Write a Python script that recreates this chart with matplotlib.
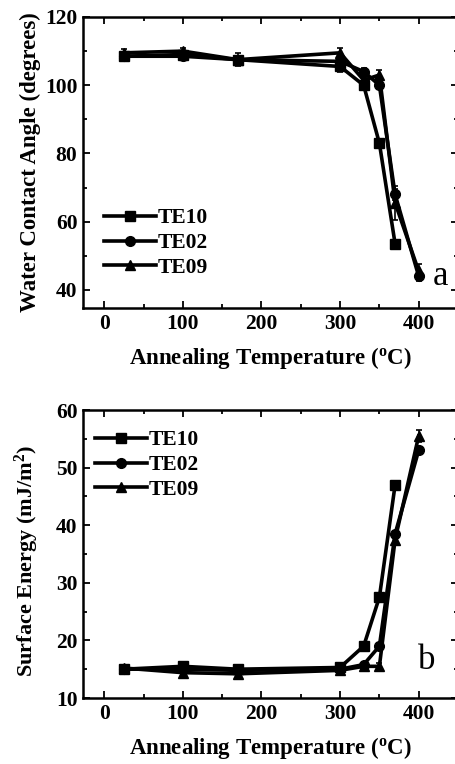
import matplotlib.pyplot as plt
from matplotlib.ticker import MultipleLocator

plt.rcParams['font.family'] = 'Liberation Serif'
plt.rcParams['mathtext.fontset'] = 'custom'
plt.rcParams['mathtext.rm'] = 'Liberation Serif'
plt.rcParams['mathtext.bf'] = 'Liberation Serif:bold'

# annealing temperatures (C)
temps = [25, 100, 170, 300, 330, 350, 370, 400]
temps_te10 = [25, 100, 170, 300, 330, 350, 370]

# panel a: water contact angle (degrees)
wca_te10 = [108.5, 109.0, 107.5, 105.5, 100.0, 83.0, 53.5]
wca_te02 = [108.5, 108.5, 107.5, 107.0, 104.0, 100.0, 68.0, 44.0]
wca_te09 = [109.5, 110.0, 107.5, 109.5, 101.5, 103.0, 65.5, 45.5]
wca_err10 = [1.0, 1.0, 1.0, 1.5, 1.0, 1.0, 1.0]
wca_err02 = [1.0, 1.0, 1.0, 1.5, 1.0, 1.0, 1.5, 1.5]
wca_err09 = [1.0, 1.0, 2.0, 1.5, 1.0, 1.5, 5.0, 2.0]

# panel b: surface energy (mJ/m2)
se_te10 = [15.0, 15.5, 15.0, 15.3, 19.0, 27.5, 47.0]
se_te02 = [15.0, 15.0, 14.8, 15.0, 15.8, 19.0, 38.5, 53.0]
se_te09 = [15.2, 14.4, 14.2, 14.8, 15.5, 15.5, 37.5, 55.5]
se_err10 = [0.5, 0.5, 0.5, 0.5, 0.5, 0.5, 0.5]
se_err02 = [0.5, 0.5, 0.5, 0.5, 0.5, 0.5, 0.5, 0.5]
se_err09 = [0.5, 0.5, 0.5, 0.5, 0.5, 0.5, 0.5, 1.0]

TICK_FS = 15.5
LABEL_FS = 16.5

fig = plt.figure(figsize=(4.56, 7.64), dpi=100)
W, H = 456, 764
ax_a = fig.add_axes([83 / W, (H - 308) / H, 375 / W, 291 / H])
ax_b = fig.add_axes([83 / W, (H - 698) / H, 375 / W, 288 / H])

def draw(ax, y10, y02, y09, e10, e02, e09):
    kw = dict(color='black', lw=2.6, ms=7, capsize=2.5, elinewidth=1.2, capthick=1.2)
    c1 = ax.errorbar(temps_te10, y10, yerr=e10, marker='s', **kw)
    c2 = ax.errorbar(temps, y02, yerr=e02, marker='o', **kw)
    c3 = ax.errorbar(temps, y09, yerr=e09, marker='^', **kw)
    ax.set_xlim(-27, 450)
    ax.xaxis.set_major_locator(MultipleLocator(100))
    ax.xaxis.set_minor_locator(MultipleLocator(50))
    ax.tick_params(which='both', direction='in', top=True, right=True, width=1.3)
    ax.tick_params(which='major', length=5, labelsize=TICK_FS, pad=4)
    ax.tick_params(which='minor', length=3)
    for sp in ax.spines.values():
        sp.set_linewidth(1.8)
    ax.set_xlabel(r'Annealing Temperature ($\mathbf{^{o}}$C)', fontsize=LABEL_FS,
                  fontweight='bold', labelpad=8.5)
    return [c1[0], c2[0], c3[0]]

def bold_ticks(ax):
    for lab in ax.get_xticklabels() + ax.get_yticklabels():
        lab.set_fontweight('bold')

legend_kw = dict(loc='center left', frameon=False, borderpad=0, borderaxespad=0,
                 handlelength=2.4, handletextpad=0.1, labelspacing=0.22,
                 prop={'size': TICK_FS, 'weight': 'bold'})

h = draw(ax_a, wca_te10, wca_te02, wca_te09, wca_err10, wca_err02, wca_err09)
ax_a.set_ylim(34.7, 120)
ax_a.yaxis.set_major_locator(MultipleLocator(20))
ax_a.yaxis.set_minor_locator(MultipleLocator(10))
ax_a.set_ylabel('Water Contact Angle (degrees)', fontsize=LABEL_FS, fontweight='bold', labelpad=3)
bold_ticks(ax_a)
ax_a.legend(h, ['TE10', 'TE02', 'TE09'], bbox_to_anchor=(0.056, 0.223), **legend_kw)
ax_a.text(0.933, 0.107, 'a', transform=ax_a.transAxes, fontsize=25, va='center', ha='left')

h = draw(ax_b, se_te10, se_te02, se_te09, se_err10, se_err02, se_err09)
ax_b.set_ylim(10, 60)
ax_b.yaxis.set_major_locator(MultipleLocator(10))
ax_b.yaxis.set_minor_locator(MultipleLocator(5))
ax_b.set_ylabel(r'Surface Energy (mJ/m$\mathbf{^{2}}$)', fontsize=LABEL_FS - 0.5,
                fontweight='bold')
ax_b.yaxis.set_label_coords(-0.112, 0.476)
bold_ticks(ax_b)
ax_b.legend(h, ['TE10', 'TE02', 'TE09'], bbox_to_anchor=(0.032, 0.809), **legend_kw)
ax_b.text(0.893, 0.13, 'b', transform=ax_b.transAxes, fontsize=25, va='center', ha='left')

fig.savefig('out.png', dpi=100, facecolor='white')
